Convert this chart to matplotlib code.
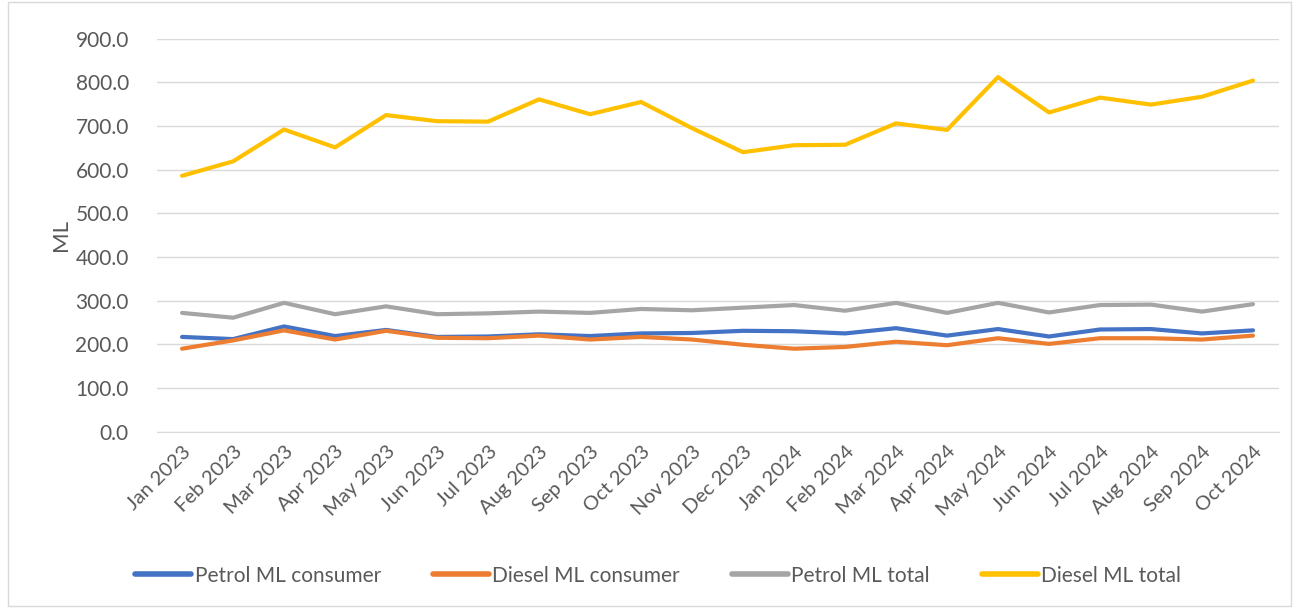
import matplotlib
matplotlib.use("Agg")
import matplotlib.pyplot as plt
from matplotlib.patches import Rectangle

months = ["Jan 2023", "Feb 2023", "Mar 2023", "Apr 2023", "May 2023", "Jun 2023",
          "Jul 2023", "Aug 2023", "Sep 2023", "Oct 2023", "Nov 2023", "Dec 2023",
          "Jan 2024", "Feb 2024", "Mar 2024", "Apr 2024", "May 2024", "Jun 2024",
          "Jul 2024", "Aug 2024", "Sep 2024", "Oct 2024"]

petrol_consumer = [217, 212, 241, 219, 233, 217, 218, 223, 219, 225, 226, 231,
                   230, 225, 237, 220, 235, 218, 234, 235, 225, 232]
diesel_consumer = [190, 209, 232, 211, 231, 215, 214, 220, 211, 217, 211, 199,
                   190, 194, 206, 198, 214, 201, 214, 214, 211, 220]
petrol_total = [272, 261, 295, 269, 287, 269, 271, 275, 272, 281, 278, 284,
                290, 277, 295, 272, 295, 273, 290, 291, 275, 292]
diesel_total = [586, 619, 692, 651, 725, 711, 710, 761, 727, 755, 695, 640,
                656, 657, 706, 691, 812, 731, 765, 749, 767, 804]

series = [
    ("Petrol ML consumer", petrol_consumer, "#4472C4"),
    ("Diesel ML consumer", diesel_consumer, "#ED7D31"),
    ("Petrol ML total", petrol_total, "#A5A5A5"),
    ("Diesel ML total", diesel_total, "#FFC000"),
]

plt.rcParams['font.family'] = ['Lato', 'DejaVu Sans']
txt = "#595959"

fig = plt.figure(figsize=(12.96, 6.08), dpi=100)
ax = fig.add_axes([0.1208, 0.29, 0.8657, 0.6464])

x = list(range(len(months)))
for name, vals, col in series:
    ax.plot(x, vals, color=col, lw=3.0, label=name, solid_capstyle='round', solid_joinstyle='round')

ax.set_xlim(-0.5, len(months) - 0.5)
ax.set_ylim(0, 900)
ax.set_yticks(range(0, 901, 100))
ax.set_yticklabels([f"{v:.1f}" for v in range(0, 901, 100)], color=txt, fontsize=15)
ax.set_xticks(x)
ax.set_xticklabels(months, rotation=45, ha='right', rotation_mode='anchor', color=txt, fontsize=14.5)
ax.tick_params(axis='y', length=0, pad=20)
ax.tick_params(axis='x', length=0, pad=8)
ax.grid(axis='y', color='#D9D9D9', lw=1)
ax.set_axisbelow(True)
for s in ['top', 'right', 'left']:
    ax.spines[s].set_visible(False)
ax.spines['bottom'].set_color('#D9D9D9')
ax.set_ylabel("ML", color=txt, fontsize=16, labelpad=3)

leg = fig.legend(loc='lower center', ncol=4, frameon=False, fontsize=15, labelcolor=txt,
                 bbox_to_anchor=(0.508, 0.006), handlelength=2.7, handletextpad=0.15,
                 columnspacing=2.5)
for h in leg.get_lines():
    h.set_linewidth(4.0)

fig.patches.append(Rectangle((0.006, 0.003), 0.99, 0.994, transform=fig.transFigure,
                             fill=False, edgecolor='#D9D9D9', lw=1))

fig.savefig("out.png", dpi=100)
